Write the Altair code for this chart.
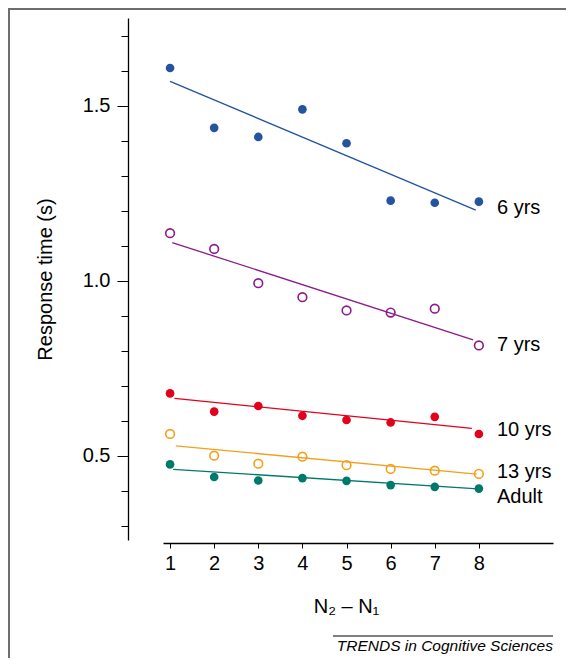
import altair as alt
import pandas as pd

# ---------------- data ----------------
x_vals = [1, 2, 3, 4, 5, 6, 7, 8]
groups = ["6 yrs", "7 yrs", "10 yrs", "13 yrs", "Adult"]

rt_6yrs = [1.608, 1.437, 1.411, 1.490, 1.393, 1.229, 1.223, 1.226]
rt_7yrs = [1.136, 1.091, 0.993, 0.953, 0.915, 0.909, 0.920, 0.815]
rt_10yrs = [0.678, 0.626, 0.642, 0.614, 0.602, 0.595, 0.611, 0.562]
rt_13yrs = [0.562, 0.500, 0.477, 0.497, 0.473, 0.462, 0.457, 0.448]
rt_adult = [0.475, 0.439, 0.429, 0.436, 0.428, 0.416, 0.411, 0.406]

# fitted line end points (as drawn)
fit_x0 = [1.00, 1.05, 1.10, 1.13, 1.07]
fit_x1 = [7.93, 7.87, 7.84, 7.95, 7.98]
fit_y0 = [1.570, 1.109, 0.664, 0.528, 0.461]
fit_y1 = [1.202, 0.831, 0.578, 0.447, 0.405]

label_x = [8.41, 8.41, 8.41, 8.41, 8.41]
label_y = [1.207, 0.816, 0.573, 0.454, 0.383]

hollow = [False, True, False, True, False]
colors = ["#2453a0", "#8b1a8b", "#e2001a", "#f2a01c", "#00796a"]

y_tick_values = [0.3, 0.4, 0.5, 0.6, 0.7, 0.8, 0.9, 1.0, 1.1, 1.2, 1.3, 1.4, 1.5, 1.6, 1.7]
x_tick_values = x_vals

# ---------------- tables ----------------
series = [rt_6yrs, rt_7yrs, rt_10yrs, rt_13yrs, rt_adult]
rows = []
for g, vals, h in zip(groups, series, hollow):
    for x, v in zip(x_vals, vals):
        rows.append({"group": g, "x": x, "rt": v, "hollow": h})
pts = pd.DataFrame(rows)
fits = pd.DataFrame({"group": groups, "x0": fit_x0, "x1": fit_x1, "y0": fit_y0, "y1": fit_y1})
labels = pd.DataFrame({"group": groups, "x": label_x, "y": label_y})

FONT = "Liberation Sans"
FS = 20

xs = alt.Scale(domain=[0.84, 9.68], nice=False, zero=False)
ys = alt.Scale(domain=[0.259, 1.751], nice=False, zero=False)
cs = alt.Scale(domain=groups, range=colors)

major = "abs(datum.value*2 - round(datum.value*2)) < 0.01"

x_axis = alt.Axis(
    title="N\u2082 \u2013 N\u2081", values=x_tick_values, format="d",
    offset=3, tickSize=5, labelPadding=5, labelFontSize=FS, labelFont=FONT,
    labelColor="black", tickColor="black", domainColor="black", domainWidth=1.3,
    titleFontSize=FS, titleFont=FONT, titleFontWeight="normal", titleColor="black",
    titleX=183, titleY=69, titleBaseline="alphabetic", titleAlign="center",
    grid=False,
)
y_axis = alt.Axis(
    title="Response time (s)", values=y_tick_values,
    labelExpr=f"{major} ? format(datum.value, '.1f') : ''",
    offset=35,
    tickSize={"condition": {"test": major, "value": 11}, "value": 7},
    labelPadding=7, labelFontSize=FS, labelFont=FONT,
    labelColor="black", tickColor="black", domainColor="black", domainWidth=1.3,
    titleFontSize=FS, titleFont=FONT, titleFontWeight="normal", titleColor="black",
    titleX=-77, titleY=261, titleBaseline="alphabetic", titleAlign="center", titleAngle=270,
    grid=False,
)

X = alt.X("x:Q", scale=xs, axis=x_axis)
Y = alt.Y("rt:Q", scale=ys, axis=y_axis)

filled = alt.Chart(pts).transform_filter("!datum.hollow").mark_point(
    filled=True, shape="circle", size=75, opacity=1
).encode(x=X, y=Y, color=alt.Color("group:N", scale=cs, legend=None))

open_pts = alt.Chart(pts).transform_filter("datum.hollow").mark_point(
    filled=False, shape="circle", size=75, strokeWidth=1.6, opacity=1
).encode(x=X, y=Y, color=alt.Color("group:N", scale=cs, legend=None))

fit_lines = alt.Chart(fits).mark_rule(strokeWidth=1.3).encode(
    x=alt.X("x0:Q", scale=xs, axis=x_axis), x2="x1:Q",
    y=alt.Y("y0:Q", scale=ys, axis=y_axis), y2="y1:Q",
    color=alt.Color("group:N", scale=cs, legend=None),
)

text_labels = alt.Chart(labels).mark_text(
    align="left", baseline="middle", fontSize=FS, font=FONT, color="black"
).encode(
    x=alt.X("x:Q", scale=xs, axis=x_axis),
    y=alt.Y("y:Q", scale=ys, axis=y_axis),
    text="group:N",
)

one = pd.DataFrame({"a": [0]})
frame_left = alt.Chart(one).mark_rule(color="#6e6e6e", strokeWidth=2).encode(
    x=alt.value(-154), y=alt.value(-10), y2=alt.value(645)
)
frame_top = alt.Chart(one).mark_rule(color="#6e6e6e", strokeWidth=2).encode(
    x=alt.value(-155), x2=alt.value(403), y=alt.value(-9)
)
credit_line = alt.Chart(one).mark_rule(color="#808080", strokeWidth=2).encode(
    x=alt.value(170), x2=alt.value(390), y=alt.value(618)
)
credit = alt.Chart(one).mark_text(
    align="right", baseline="alphabetic", fontSize=15.5, fontStyle="italic", font=FONT, color="black"
).encode(x=alt.value(390), y=alt.value(633), text=alt.value("TRENDS in Cognitive Sciences"))

chart = alt.layer(
    fit_lines, filled, open_pts, text_labels, frame_left, frame_top, credit_line, credit
).properties(
    width=390, height=522,
    padding={"left": 155, "top": 10, "right": 13, "bottom": 118},
    autosize=alt.AutoSizeParams(type="none"),
).configure(
    background="white",
    view=alt.ViewConfig(strokeWidth=0, strokeOpacity=0),
)

chart.save("out.html", embed_options={"renderer": "svg", "actions": False})
